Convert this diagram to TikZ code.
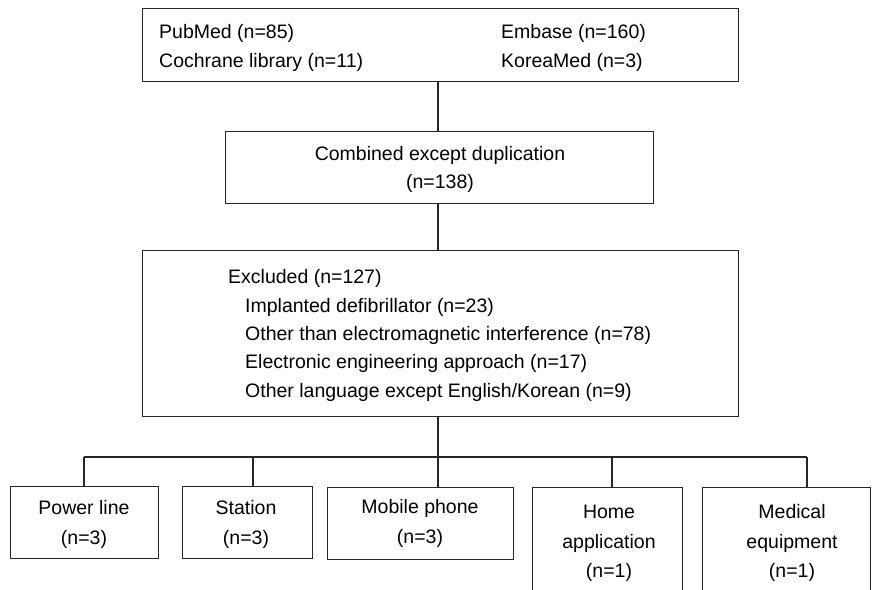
\documentclass[tikz,border=0pt]{standalone}
\usepackage{fontspec}
\setmainfont{Liberation Sans}
\begin{document}
\begin{tikzpicture}[x=1pt,y=-1pt,
  box/.style={draw=black!85, line width=1.3pt, inner sep=0pt, anchor=north west},
  conn/.style={draw=black!85, line width=1.3pt},
  txt/.style={inner sep=0pt, anchor=base west, font=\fontsize{19.5}{29}\selectfont, text=black},
  ctxt/.style={inner sep=0pt, anchor=base, font=\fontsize{19.5}{29}\selectfont, text=black}]
\useasboundingbox (0,0) rectangle (872,589);
\clip (0,0) rectangle (872,589);
% boxes
\node[box, minimum width=596pt, minimum height=73pt] (src) at (142,8) {};
\node[box, minimum width=428pt, minimum height=72pt] (comb) at (225,131) {};
\node[box, minimum width=596pt, minimum height=166pt] (excl) at (142,250) {};
\node[box, minimum width=148pt, minimum height=72pt] (power) at (10,486) {};
\node[box, minimum width=130pt, minimum height=72pt] (station) at (182,486) {};
\node[box, minimum width=186pt, minimum height=72pt] (mobile) at (327,487) {};
\node[box, minimum width=150pt, minimum height=140pt] (home) at (532,487) {};
\node[box, minimum width=168pt, minimum height=140pt] (medical) at (702,487) {};
% texts
\node[txt] (t1) at (159,38) {PubMed (n=85)};
\node[txt] (t2) at (159,67) {Cochrane library (n=11)};
\node[txt] (t3) at (501,38) {Embase (n=160)};
\node[txt] (t4) at (501,67) {KoreaMed (n=3)};
\node[ctxt] (c1) at (440,160) {Combined except duplication};
\node[ctxt] (c2) at (440,188) {(n=138)};
\node[txt] (e0) at (228,283) {Excluded (n=127)};
\node[txt] (e1) at (245,312) {Implanted defibrillator (n=23)};
\node[txt] (e2) at (245,340) {Other than electromagnetic interference (n=78)};
\node[txt] (e3) at (245,368) {Electronic engineering approach (n=17)};
\node[txt] (e4) at (245,397) {Other language except English/Korean (n=9)};
\node[ctxt] (p1) at (84,514) {Power line};
\node[ctxt] (p2) at (84,544) {(n=3)};
\node[ctxt] (s1) at (246,514) {Station};
\node[ctxt] (s2) at (246,544) {(n=3)};
\node[ctxt] (m1) at (420,513) {Mobile phone};
\node[ctxt] (m2) at (420,543) {(n=3)};
\node[ctxt] (h1) at (609,518) {Home};
\node[ctxt] (h2) at (609,548) {application};
\node[ctxt] (h3) at (609,577) {(n=1)};
\node[ctxt] (d1) at (792,518) {Medical};
\node[ctxt] (d2) at (792,548) {equipment};
\node[ctxt] (d3) at (792,577) {(n=1)};
% connectors
\coordinate (a) at (438,0);
\coordinate (jl) at (84,457);
\coordinate (js) at (253,457);
\coordinate (jh) at (612,457);
\coordinate (jr) at (807,457);
\draw[conn] (a |- src.south) -- (a |- comb.north);
\draw[conn] (a |- comb.south) -- (a |- excl.north);
\draw[conn] (a |- excl.south) -- (a |- mobile.north);
\draw[conn] (jl) -- (jr);
\draw[conn] (jl) -- (jl |- power.north);
\draw[conn] (js) -- (js |- station.north);
\draw[conn] (jh) -- (jh |- home.north);
\draw[conn] (jr) -- (jr |- medical.north);
\end{tikzpicture}
\end{document}
